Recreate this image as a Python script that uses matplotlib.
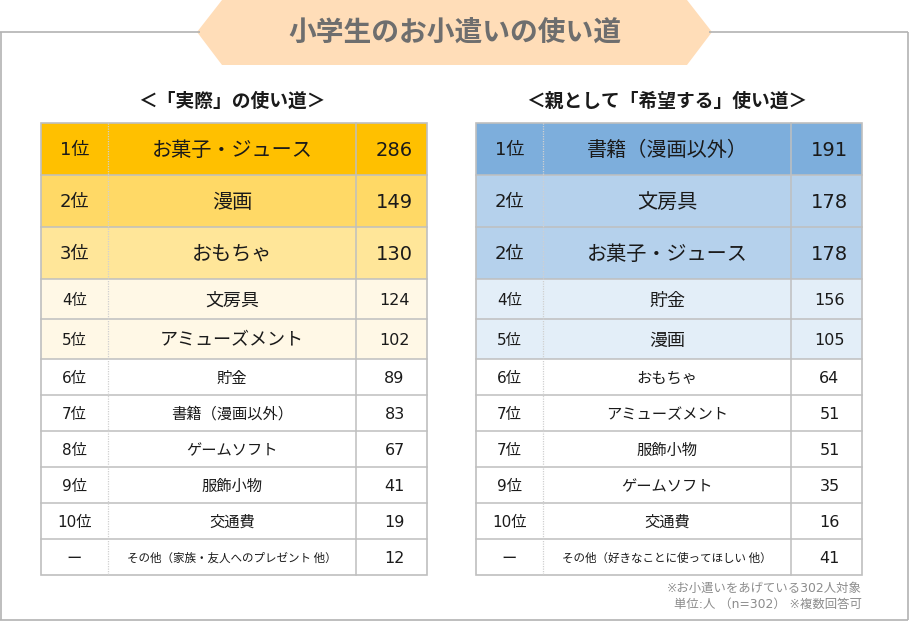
import matplotlib.pyplot as plt
from matplotlib.patches import Rectangle, Polygon

plt.rcParams['font.family'] = ['Noto Sans CJK JP', 'DejaVu Sans']
num_font = ['DejaVu Sans', 'Noto Sans CJK JP']

# データ
title = '小学生のお小遣いの使い道'

left_title = '＜「実際」の使い道＞'
left_ranks = ['1位', '2位', '3位', '4位', '5位', '6位', '7位', '8位', '9位', '10位', 'ー']
left_items = ['お菓子・ジュース', '漫画', 'おもちゃ', '文房具', 'アミューズメント', '貯金',
              '書籍（漫画以外）', 'ゲームソフト', '服飾小物', '交通費',
              'その他（家族・友人へのプレゼント 他）']
left_values = [286, 149, 130, 124, 102, 89, 83, 67, 41, 19, 12]

right_title = '＜親として「希望する」使い道＞'
right_ranks = ['1位', '2位', '2位', '4位', '5位', '6位', '7位', '7位', '9位', '10位', 'ー']
right_items = ['書籍（漫画以外）', '文房具', 'お菓子・ジュース', '貯金', '漫画', 'おもちゃ',
               'アミューズメント', '服飾小物', 'ゲームソフト', '交通費',
               'その他（好きなことに使ってほしい 他）']
right_values = [191, 178, 178, 156, 105, 64, 51, 51, 35, 16, 41]

notes = ['※お小遣いをあげている302人対象', '単位:人 （n=302） ※複数回答可']

# レイアウト（ピクセル単位）
W, H = 909, 621
row_h = [52, 52, 52, 40, 40, 36, 36, 36, 36, 36, 36]
col_w = [67, 248, 71]
top = 123
grid = '#BFBFBF'
txt = '#1A1A1A'

left_colors = ['#FFC000', '#FFD966', '#FFE699', '#FFF8E6', '#FFF8E6']
right_colors = ['#7DAEDC', '#B5D1EC', '#B5D1EC', '#E3EEF8', '#E3EEF8']

fig = plt.figure(figsize=(W / 100, H / 100), dpi=100)
ax = fig.add_axes([0, 0, 1, 1])
ax.set_xlim(0, W)
ax.set_ylim(H, 0)
ax.axis('off')

# 外枠
frame = dict(color='#B3B3B3', lw=1.2, solid_capstyle='butt')
ax.plot([0, 200], [32, 32], **frame)
ax.plot([709, 908], [32, 32], **frame)
ax.plot([0.8, 0.8], [32, 620], **frame)
ax.plot([907.5, 907.5], [32, 620], **frame)
ax.plot([0, 908], [619.5, 619.5], **frame)

# タイトルの帯
ax.add_patch(Polygon([(197, 32), (222, 0), (687, 0), (712, 32), (687, 65), (222, 65)],
                     closed=True, facecolor='#FFDDB8', edgecolor='none'))
ax.text(455, 33, title, ha='center', va='center', fontsize=20, fontweight='bold', color='#6E6E6E')


def draw_table(x0, head, ranks, items, values, colors):
    tw = sum(col_w)
    ax.text(x0 + tw / 2 - 2, 101, head, ha='center', va='center', fontsize=13.5,
            fontweight='bold', color=txt)
    y = top
    for i, (r, it, v) in enumerate(zip(ranks, items, values)):
        h = row_h[i]
        fc = colors[i] if i < len(colors) else 'white'
        ax.add_patch(Rectangle((x0, y), tw, h, facecolor=fc, edgecolor='none'))
        if i < 3:
            fr, fi, fv = 13, 14.5, 14
        elif i < 5:
            fr, fi, fv = 11, 13, 11.5
        elif i < 10:
            fr, fi, fv = 11, 11, 11.5
        else:
            fr, fi, fv = 11, 8.3, 11.5
        cy = y + h / 2 + 1.5
        ax.text(x0 + col_w[0] / 2, cy, r, ha='center', va='center', fontsize=fr, color=txt,
                family=num_font)
        ax.text(x0 + col_w[0] + col_w[1] / 2, cy, it, ha='center', va='center', fontsize=fi, color=txt)
        ax.text(x0 + col_w[0] + col_w[1] + col_w[2] / 2 + 3, cy, str(v), ha='center', va='center',
                fontsize=fv, color=txt, family=num_font)
        y += h
    bottom = y
    # 罫線
    y = top
    for h in row_h[:-1]:
        y += h
        ax.plot([x0, x0 + tw], [y, y], color=grid, lw=1.1)
    ax.plot([x0 + col_w[0], x0 + col_w[0]], [top, bottom], color='#D0D0D0', lw=0.9, ls=(0, (1, 1)))
    xs = x0 + col_w[0] + col_w[1]
    ax.plot([xs, xs], [top, bottom], color=grid, lw=1.1)
    ax.add_patch(Rectangle((x0, top), tw, bottom - top, facecolor='none', edgecolor=grid, lw=1.2))


draw_table(41, left_title, left_ranks, left_items, left_values, left_colors)
draw_table(476, right_title, right_ranks, right_items, right_values, right_colors)

ax.text(862, 588, notes[0], ha='right', va='center', fontsize=8.9, color='#8C8C8C',
        family=num_font)
ax.text(862, 604, notes[1], ha='right', va='center', fontsize=8.9, color='#8C8C8C',
        family=num_font)

plt.savefig('out.png', dpi=100)
